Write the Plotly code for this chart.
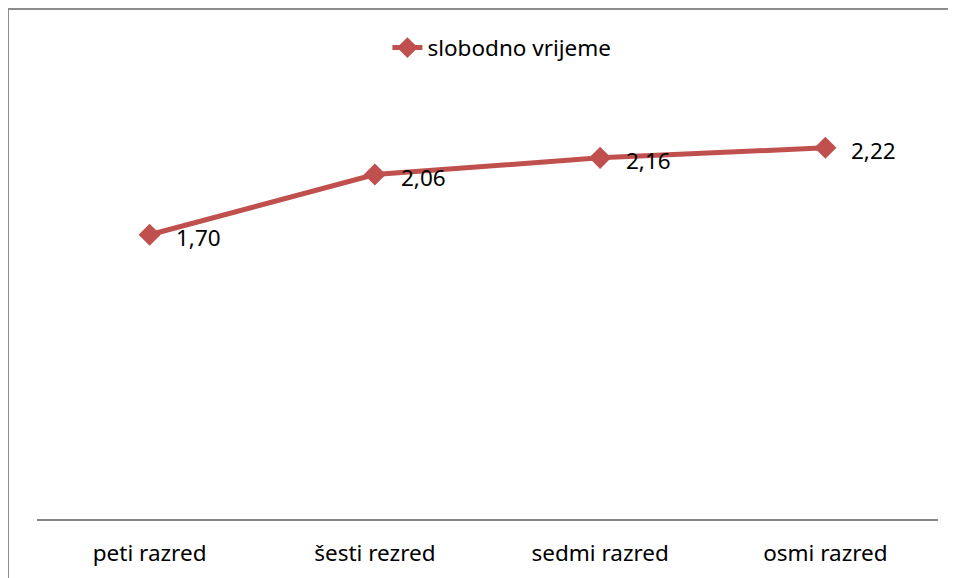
import plotly.graph_objects as go

razredi = ["peti razred", "šesti rezred", "sedmi razred", "osmi razred"]
slobodno_vrijeme = [1.70, 2.06, 2.16, 2.22]
serija = "slobodno vrijeme"

RED = "#C0504D"
FONT = "Noto Sans"
FS = 22.5

fig = go.Figure()
fig.add_trace(go.Scatter(
    x=razredi,
    y=slobodno_vrijeme,
    mode="lines+markers",
    name=serija,
    line=dict(color=RED, width=5),
    marker=dict(symbol="diamond", size=17, color=RED),
))

# data labels, Excel style (right of the point)
for xv, yv in zip(razredi, slobodno_vrijeme):
    fig.add_annotation(
        x=xv, y=yv, text=f"{yv:.2f}".replace(".", ","),
        showarrow=False, xanchor="left", yanchor="middle",
        xshift=24, yshift=-3,
        font=dict(family=FONT, size=FS, color="#000000"),
    )

# chart frame
fig.add_shape(type="rect", xref="paper", yref="paper",
              x0=-0.0322, x1=1.2, y0=-0.5, y1=1.22,
              line=dict(color="#8C8C8C", width=2))

fig.update_layout(
    width=956, height=578,
    margin=dict(l=29, r=26, t=93, b=67),
    paper_bgcolor="white", plot_bgcolor="white",
    font=dict(family=FONT, size=FS, color="#000000"),
    separators=",.",
    showlegend=True,
    legend=dict(
        orientation="h", x=0.516, y=1.127, xanchor="center", yanchor="middle",
        font=dict(family=FONT, size=FS), bgcolor="rgba(0,0,0,0)",
    ),
    xaxis=dict(
        range=[-0.5, 3.5],
        showline=True, linecolor="#868686", linewidth=2,
        showgrid=False, ticks="", zeroline=False,
        tickfont=dict(family=FONT, size=FS),
        ticklabelstandoff=13,
    ),
    yaxis=dict(range=[0, 2.5], visible=False, showgrid=False),
)

fig.write_html("out.html")
